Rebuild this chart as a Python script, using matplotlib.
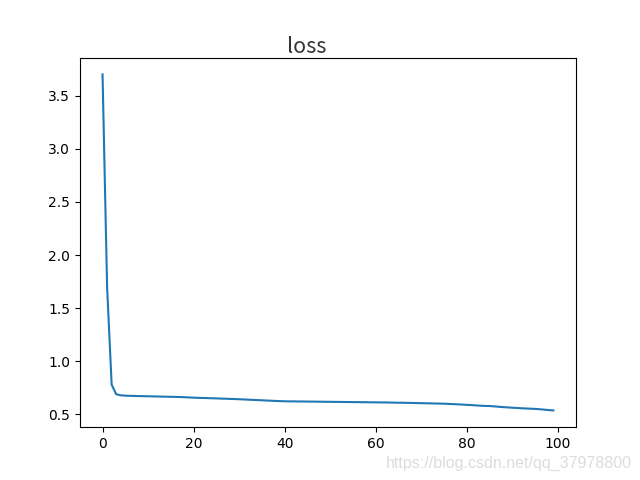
import matplotlib
matplotlib.use('Agg')
import matplotlib.pyplot as plt

# loss per epoch
loss = [3.70, 1.70, 0.78, 0.690, 0.680, 0.677, 0.675, 0.674, 0.673, 0.672,
        0.671, 0.670, 0.669, 0.668, 0.667, 0.666, 0.665, 0.664, 0.662, 0.660,
        0.658, 0.656, 0.655, 0.654, 0.652, 0.651, 0.649, 0.648, 0.646, 0.645,
        0.643, 0.641, 0.639, 0.637, 0.635, 0.633, 0.631, 0.629, 0.627, 0.625,
        0.624, 0.623, 0.623, 0.622, 0.622, 0.621, 0.621, 0.620, 0.620, 0.619,
        0.619, 0.618, 0.618, 0.617, 0.617, 0.616, 0.616, 0.615, 0.615, 0.614,
        0.614, 0.613, 0.613, 0.612, 0.611, 0.610, 0.610, 0.609, 0.608, 0.607,
        0.606, 0.605, 0.604, 0.603, 0.602, 0.601, 0.599, 0.597, 0.595, 0.593,
        0.590, 0.588, 0.585, 0.582, 0.580, 0.579, 0.576, 0.572, 0.569, 0.566,
        0.563, 0.561, 0.558, 0.556, 0.554, 0.552, 0.549, 0.545, 0.541, 0.538]
epochs = list(range(len(loss)))

fig = plt.figure(figsize=(6.4, 4.8), dpi=100)
plt.plot(epochs, loss)
plt.title('loss', fontsize=15.5, family=['Noto Sans CJK SC', 'DejaVu Sans'],
          color='#333333', x=0.458, pad=0)
fig.text(0.988, 0.035, 'https://blog.csdn.net/qq_37978800', ha='right', va='center',
         fontsize=11.5, color='#dcdcdc', family='Liberation Sans')
plt.savefig('out.png')
